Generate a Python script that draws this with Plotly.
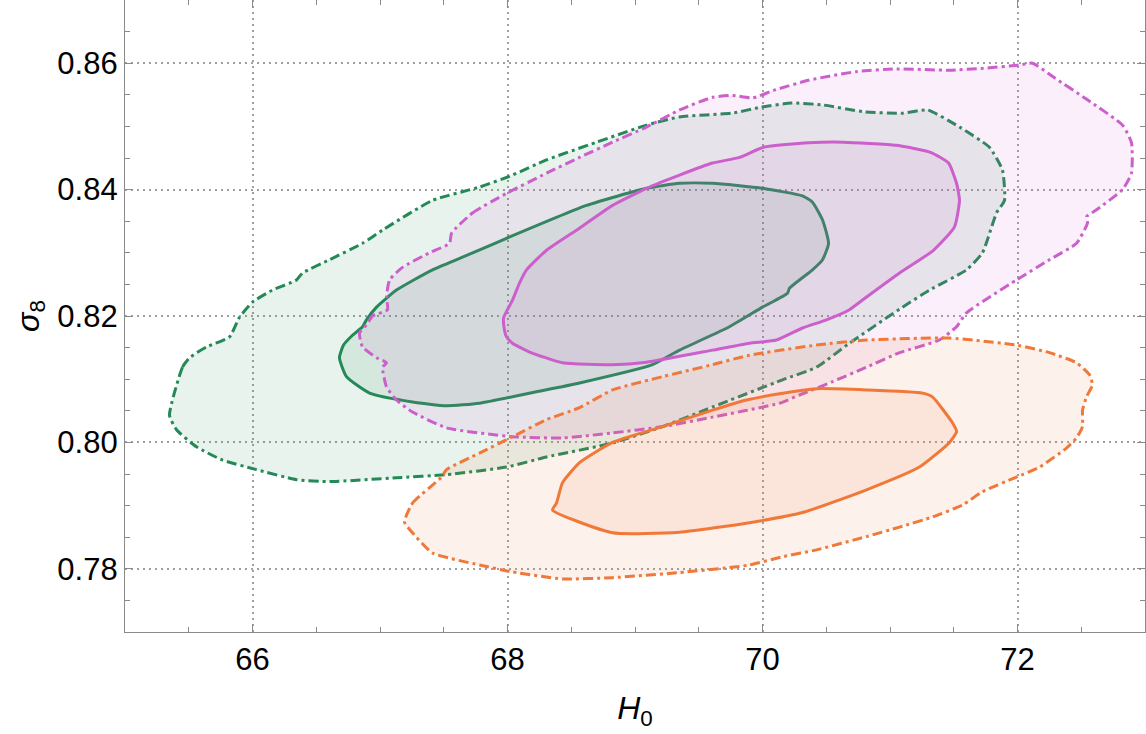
import plotly.graph_objects as go

# ---- contour data (H0, sigma8) ----
green_outer_h0 = [65.349, 65.451, 65.506, 65.639, 65.820, 65.898, 66.000, 66.157, 66.345, 66.392, 66.604, 66.863,
                  67.020, 67.412, 67.780, 68.039, 68.306, 68.698, 69.090, 69.349, 69.765, 69.976, 70.227, 70.471,
                  70.800, 71.106, 71.294, 71.545, 71.780, 71.882, 71.898, 71.835, 71.725, 71.600, 71.310, 71.098,
                  70.682, 70.424, 70.157, 69.608, 69.216, 68.824, 68.306, 67.992, 67.522, 67.129, 66.604, 66.345,
                  66.031, 65.765, 65.561, 65.404]
green_outer_s8 = [0.8043, 0.8119, 0.8134, 0.8151, 0.8167, 0.8198, 0.8222, 0.8241, 0.8257, 0.8268, 0.8289, 0.8315,
                  0.8336, 0.8383, 0.8404, 0.8423, 0.8447, 0.8475, 0.8502, 0.8515, 0.8521, 0.8530, 0.8537, 0.8534,
                  0.8523, 0.8521, 0.8526, 0.8499, 0.8467, 0.8431, 0.8383, 0.8363, 0.8300, 0.8273, 0.8241, 0.8214,
                  0.8157, 0.8119, 0.8099, 0.8056, 0.8025, 0.7999, 0.7977, 0.7961, 0.7949, 0.7944, 0.7938, 0.7941,
                  0.7957, 0.7972, 0.7993, 0.8020]

green_inner_h0 = [66.682, 66.714, 66.776, 66.863, 66.894, 66.973, 67.129, 67.412, 67.647, 67.992, 68.620, 69.090,
                  69.349, 69.608, 70.000, 70.314, 70.392, 70.471, 70.518, 70.471, 70.392, 70.212, 70.196, 70.000,
                  69.741, 69.349, 69.137, 68.565, 68.227, 67.780, 67.522, 67.255, 66.918, 66.737]
green_inner_s8 = [0.8134, 0.8154, 0.8168, 0.8183, 0.8194, 0.8214, 0.8241, 0.8273, 0.8293, 0.8323, 0.8375, 0.8402,
                  0.8410, 0.8410, 0.8402, 0.8390, 0.8380, 0.8352, 0.8315, 0.8289, 0.8273, 0.8244, 0.8236, 0.8214,
                  0.8183, 0.8146, 0.8123, 0.8094, 0.8080, 0.8062, 0.8058, 0.8064, 0.8078, 0.8104]

magenta_outer_h0 = [67.561, 67.725, 67.992, 68.306, 68.565, 68.824, 69.090, 69.349, 69.608, 69.765, 69.922, 70.086,
                    70.361, 70.745, 71.051, 71.459, 71.733, 72.008, 72.118, 72.282, 72.549, 72.824, 72.894, 72.894,
                    72.824, 72.620, 72.541, 72.549, 72.463, 72.251, 71.992, 71.600, 71.522, 71.388, 71.075, 70.816,
                    70.549, 70.290, 70.133, 69.608, 69.216, 68.824, 68.431, 68.039, 67.522, 67.255, 67.129, 67.051,
                    67.020, 67.051, 66.973, 66.863, 66.839, 66.894, 66.941, 67.059, 67.051, 67.075, 67.176, 67.388,
                    67.545]
magenta_outer_s8 = [0.8331, 0.8363, 0.8394, 0.8426, 0.8451, 0.8475, 0.8499, 0.8526, 0.8546, 0.8549, 0.8545, 0.8557,
                    0.8573, 0.8587, 0.8591, 0.8589, 0.8592, 0.8597, 0.8600, 0.8578, 0.8542, 0.8502, 0.8474, 0.8426,
                    0.8400, 0.8368, 0.8357, 0.8347, 0.8315, 0.8289, 0.8257, 0.8205, 0.8183, 0.8162, 0.8142, 0.8119,
                    0.8096, 0.8075, 0.8062, 0.8040, 0.8025, 0.8015, 0.8007, 0.8009, 0.8023, 0.8048, 0.8067, 0.8088,
                    0.8119, 0.8126, 0.8134, 0.8151, 0.8173, 0.8186, 0.8200, 0.8210, 0.8230, 0.8257, 0.8277, 0.8300,
                    0.8315]

magenta_inner_h0 = [67.976, 67.969, 68.039, 68.094, 68.149, 68.306, 68.565, 68.824, 69.090, 69.349, 69.608, 69.820,
                    70.008, 70.361, 70.635, 71.051, 71.318, 71.459, 71.522, 71.545, 71.506, 71.341, 71.075, 70.816,
                    70.682, 70.502, 70.314, 70.110, 69.898, 69.608, 69.090, 68.824, 68.431, 68.173, 68.039, 67.992]
magenta_inner_s8 = [0.8178, 0.8197, 0.8225, 0.8252, 0.8273, 0.8304, 0.8339, 0.8375, 0.8402, 0.8423, 0.8442, 0.8451,
                    0.8467, 0.8474, 0.8475, 0.8470, 0.8459, 0.8442, 0.8410, 0.8383, 0.8341, 0.8304, 0.8268, 0.8230,
                    0.8210, 0.8194, 0.8181, 0.8162, 0.8157, 0.8146, 0.8127, 0.8123, 0.8126, 0.8143, 0.8157, 0.8167]

orange_outer_h0 = [67.192, 67.255, 67.482, 67.522, 67.780, 68.039, 68.306, 68.565, 68.824, 69.216, 69.608, 69.898,
                   70.424, 70.816, 71.467, 71.992, 72.251, 72.463, 72.565, 72.588, 72.541, 72.510, 72.510, 72.463,
                   72.384, 72.173, 71.992, 71.725, 71.569, 71.333, 71.075, 70.816, 70.424, 70.157, 69.898, 69.741,
                   69.349, 68.824, 68.431, 68.039, 67.780, 67.412, 67.255]
orange_outer_s8 = [0.7874, 0.7904, 0.7945, 0.7957, 0.7983, 0.8009, 0.8036, 0.8055, 0.8083, 0.8104, 0.8123, 0.8138,
                   0.8154, 0.8162, 0.8165, 0.8154, 0.8142, 0.8126, 0.8107, 0.8091, 0.8072, 0.8051, 0.8025, 0.8007,
                   0.7991, 0.7961, 0.7945, 0.7922, 0.7901, 0.7882, 0.7866, 0.7851, 0.7830, 0.7819, 0.7806, 0.7802,
                   0.7794, 0.7786, 0.7784, 0.7795, 0.7806, 0.7825, 0.7857]

orange_inner_h0 = [68.353, 68.384, 68.431, 68.565, 68.824, 69.216, 69.608, 69.875, 70.133, 70.424, 70.816, 71.255,
                   71.333, 71.490, 71.522, 71.467, 71.231, 70.816, 70.314, 69.898, 69.349, 68.824]
orange_inner_s8 = [0.7893, 0.7904, 0.7936, 0.7968, 0.8000, 0.8025, 0.8051, 0.8067, 0.8077, 0.8085, 0.8083, 0.8078,
                   0.8072, 0.8031, 0.8017, 0.8000, 0.7961, 0.7925, 0.7889, 0.7873, 0.7858, 0.7857]

x_ticks = [66, 68, 70, 72]
y_ticks = [0.78, 0.80, 0.82, 0.84, 0.86]
y_ticklabels = ["0.78", "0.80", "0.82", "0.84", "0.86"]

GREEN = (35, 137, 86)
MAGENTA = (204, 95, 204)
ORANGE = (240, 120, 56)
DASHDOT = "10px,4px,3px,4px"

fig = go.Figure()


def add_region(h0, s8, rgb, dash):
    r, g, b = rgb
    fig.add_trace(go.Scatter(
        x=h0 + [h0[0]], y=s8 + [s8[0]], mode="lines", fill="toself",
        fillcolor=f"rgba({r},{g},{b},0.10)",
        line=dict(color=f"rgb({r},{g},{b})", width=3, dash=dash, shape="spline", smoothing=0.5),
        hoverinfo="skip", showlegend=False))


add_region(green_outer_h0, green_outer_s8, GREEN, DASHDOT)
add_region(green_inner_h0, green_inner_s8, GREEN, "solid")
add_region(magenta_outer_h0, magenta_outer_s8, MAGENTA, DASHDOT)
add_region(magenta_inner_h0, magenta_inner_s8, MAGENTA, "solid")
add_region(orange_outer_h0, orange_outer_s8, ORANGE, DASHDOT)
add_region(orange_inner_h0, orange_inner_s8, ORANGE, "solid")

axis_common = dict(
    showline=True, linecolor="#8a8a8a", linewidth=1.2, mirror="allticks",
    ticks="inside", ticklen=8, tickcolor="#8a8a8a", tickwidth=1,
    showgrid=True, gridcolor="#a0a0a0", griddash="2px,4px", gridwidth=1.5,
    zeroline=False, automargin=False,
    tickfont=dict(family="Liberation Sans, Arial, sans-serif", size=31, color="black"),
)

fig.update_layout(
    width=1146, height=734,
    margin=dict(l=125, r=1, t=0, b=102),
    paper_bgcolor="white", plot_bgcolor="white",
    font=dict(family="Liberation Sans, Arial, sans-serif", color="black"),
    xaxis=dict(range=[65, 73], tickvals=x_ticks,
               minor=dict(dtick=0.5, tick0=65, ticks="inside", ticklen=5, tickcolor="#8a8a8a", showgrid=False),
               title=dict(text="<i>H</i><sub>0</sub>", font=dict(size=32), standoff=20),
               **axis_common),
    yaxis=dict(range=[0.77, 0.87], tickvals=y_ticks, ticktext=y_ticklabels,
               minor=dict(dtick=0.005, tick0=0.77, ticks="inside", ticklen=5, tickcolor="#8a8a8a", showgrid=False),
               title=dict(text="<i>σ</i><sub>8</sub>", font=dict(size=32), standoff=8),
               **axis_common),
)

fig.write_html("out.html")
